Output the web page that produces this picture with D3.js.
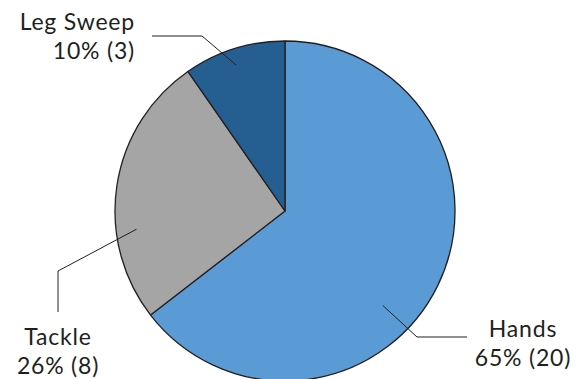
<!DOCTYPE html>
<html>
<head>
<meta charset="utf-8">
<script src="https://cdn.jsdelivr.net/npm/d3@7"></script>
<style>
  html, body { margin: 0; padding: 0; background: #fff; }
  svg text { font-family: Lato, "Open Sans", sans-serif; fill: #231f20; }
</style>
</head>
<body>
<svg id="chart" width="587" height="379"></svg>
<script>
// Data
const categories = ["Hands", "Tackle", "Leg Sweep"];
const counts = [20, 8, 3];
const percentLabels = ["65%", "26%", "10%"];
const colors = ["#5b9bd5", "#a5a5a5", "#255e91"];

// Leader-line layout for each label: anchor angle (deg, clockwise from top),
// anchor radius fraction, elbow and end points, text anchor/position.
const leaders = [
  { angle: 134, rf: 0.80, elbow: [417, 337], end: [467, 337], text: [523, 337], anchor: "middle" },
  { angle: 263, rf: 0.88, elbow: [58, 271], end: [58, 312], text: [58, 345], anchor: "middle" },
  { angle: 341.5, rf: 0.905, elbow: [202, 36], end: [152, 36], text: [135, 30], anchor: "end" }
];

const svg = d3.select("#chart");
const cx = 285, cy = 211, R = 170;

const data = categories.map((c, i) => ({ name: c, value: counts[i], pct: percentLabels[i], color: colors[i] }));

const pie = d3.pie().value(d => d.value).sort(null);
const arc = d3.arc().innerRadius(0).outerRadius(R);
const arcs = pie(data);

const g = svg.append("g").attr("transform", `translate(${cx},${cy})`);

g.selectAll("path.slice")
  .data(arcs)
  .join("path")
  .attr("class", "slice")
  .attr("d", arc)
  .attr("fill", d => d.data.color)
  .attr("stroke", "#231f20")
  .attr("stroke-width", 1.3)
  .attr("stroke-linejoin", "round");

// Leader lines and labels
arcs.forEach((a, i) => {
  const L = leaders[i];
  const t = L.angle * Math.PI / 180;
  const r = R * L.rf;
  const p0 = [cx + r * Math.sin(t), cy - r * Math.cos(t)];
  svg.append("polyline")
    .attr("points", [p0, L.elbow, L.end].map(p => p.join(",")).join(" "))
    .attr("fill", "none")
    .attr("stroke", "#231f20")
    .attr("stroke-width", 1);

  const txt = svg.append("text")
    .attr("x", L.text[0])
    .attr("y", L.text[1])
    .attr("text-anchor", L.anchor)
    .attr("font-size", 23)
    .attr("letter-spacing", 0.8);
  txt.append("tspan").attr("x", L.text[0]).attr("dy", 0).text(a.data.name);
  txt.append("tspan").attr("x", L.text[0]).attr("dy", 29).text(`${a.data.pct} (${a.data.value})`);
});
</script>
</body>
</html>
